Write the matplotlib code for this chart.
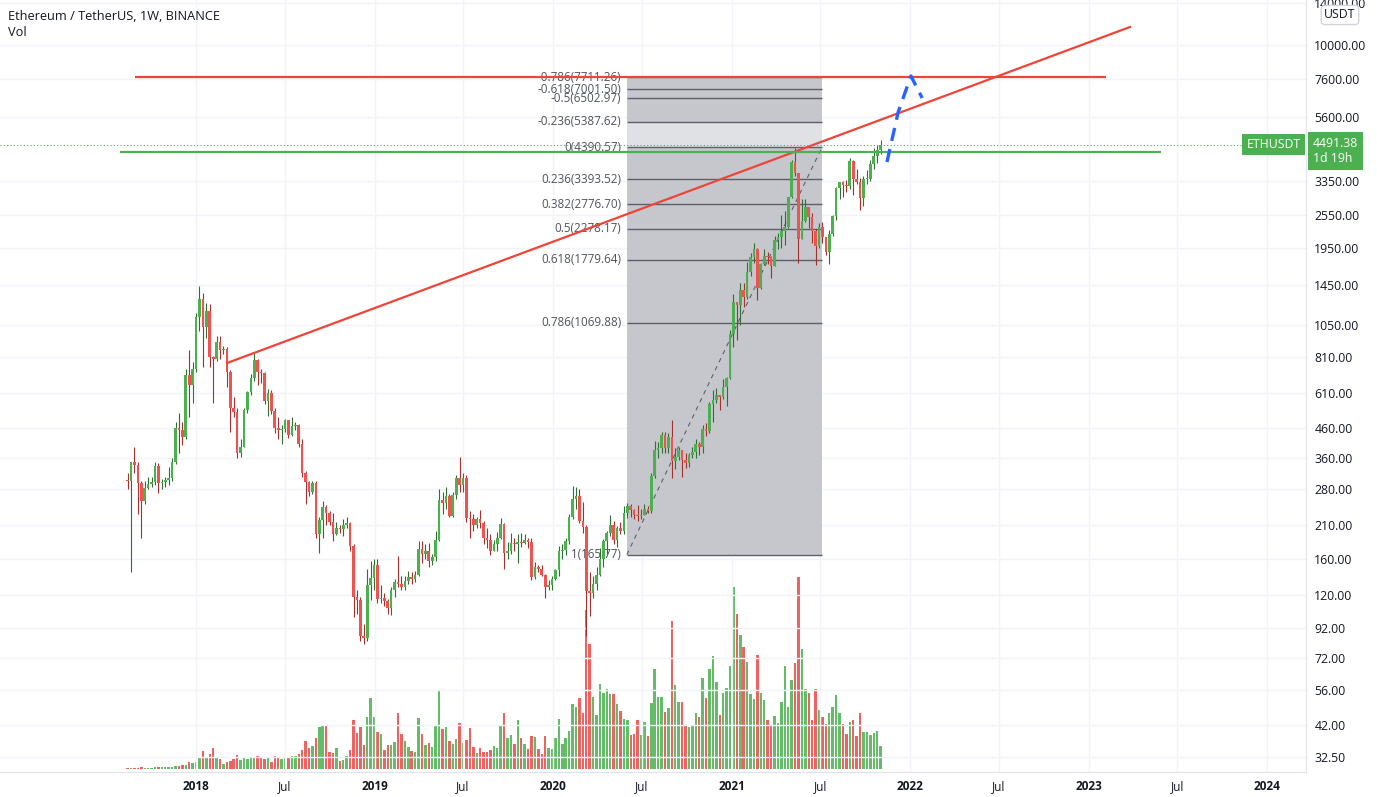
import datetime as dt
import numpy as np
import matplotlib
matplotlib.use("Agg")
import matplotlib.pyplot as plt
import matplotlib.dates as mdates
from matplotlib.ticker import NullLocator

plt.rcParams['font.family'] = ['Open Sans', 'DejaVu Sans']

# ── Weekly candles, ETH/USDT Binance ──────────────────────────────────────────
FIRST_WEEK = dt.date(2017, 8, 14)
FIRST_OPEN = 301.1

closes = [
    299, 348, 341, 296, 256, 283, 292, 298, 337, 296, 297, 302, 306, 348, 458, 450,
    428, 703, 650, 735, 1124, 1300, 1037, 1180, 814, 800, 919, 860, 870, 722, 538, 524,
    374, 395, 531, 615, 684, 793, 722, 713, 570, 610, 525, 460, 450, 455, 490, 435,
    465, 470, 405, 319, 298, 275, 294, 195, 219, 244, 231, 216, 196, 205, 203, 210,
    213, 177, 118, 115, 86, 85, 130, 137, 152, 116, 117, 114, 108, 125, 133, 131,
    128, 134, 139, 136, 141, 174, 166, 170, 157, 163, 186, 257, 252, 265, 227, 268,
    306, 290, 306, 222, 220, 210, 220, 214, 190, 186, 171, 181, 190, 212, 168, 170,
    182, 180, 183, 182, 187, 184, 139, 150, 148, 141, 128, 130, 136, 146, 170, 172,
    185, 225, 260, 265, 217, 207, 124, 122, 131, 141, 160, 185, 197, 210, 186, 206,
    200, 231, 245, 237, 228, 226, 228, 240, 236, 311, 386, 392, 433, 390, 428, 353,
    365, 384, 355, 346, 370, 377, 405, 395, 455, 447, 555, 575, 600, 590, 640, 685,
    975, 1260, 1230, 1390, 1320, 1610, 1810, 1935, 1415, 1720, 1830, 1810, 1690, 2080, 2140, 2240,
    2310, 2945, 3900, 3580, 2100, 2420, 2710, 2510, 2240, 1980, 2320, 2140, 1895, 2190, 2530, 3160,
    3310, 3240, 3225, 3940, 3410, 3330, 2930, 3390, 3415, 3850, 4085, 4290, 4491.38,
]
highs = [
    320, 350, 395, 350, 300, 300, 310, 310, 350, 346, 305, 310, 335, 360, 480, 520,
    480, 740, 860, 780, 1160, 1438, 1360, 1250, 1240, 820, 960, 960, 890, 880, 730, 590,
    540, 420, 540, 620, 710, 837, 800, 740, 720, 630, 625, 540, 500, 470, 495, 490,
    500, 480, 475, 420, 325, 300, 300, 300, 225, 255, 248, 235, 232, 215, 210, 220,
    225, 215, 180, 125, 118, 95, 148, 158, 160, 160, 130, 122, 116, 128, 136, 164,
    140, 140, 145, 144, 145, 185, 185, 180, 182, 166, 200, 280, 275, 285, 270, 275,
    315, 363, 320, 315, 235, 230, 225, 237, 218, 205, 195, 186, 199, 222, 214, 184,
    198, 190, 196, 197, 195, 190, 190, 156, 152, 152, 142, 135, 140, 148, 178, 180,
    190, 229, 288, 285, 280, 253, 210, 144, 140, 150, 175, 188, 200, 228, 217, 208,
    215, 245, 252, 250, 240, 248, 240, 250, 245, 320, 415, 410, 445, 445, 440, 488,
    390, 395, 385, 375, 376, 395, 420, 410, 470, 478, 565, 622, 635, 600, 680, 690,
    1010, 1350, 1260, 1475, 1475, 1740, 1880, 2040, 1960, 1730, 1940, 1885, 1830, 2150, 2200, 2550,
    2640, 2950, 3980, 4372, 3580, 2900, 2890, 2710, 2590, 2280, 2380, 2410, 2140, 2250, 2550, 3180,
    3330, 3340, 3375, 4030, 3970, 3680, 3440, 3490, 3660, 3970, 4380, 4460, 4660,
]
lows = [
    280, 144, 320, 230, 190, 250, 280, 285, 290, 272, 280, 285, 290, 300, 345, 375,
    400, 420, 500, 560, 720, 1000, 750, 950, 750, 560, 790, 800, 830, 640, 446, 500,
    360, 365, 395, 520, 600, 670, 650, 660, 555, 505, 515, 440, 420, 405, 445, 425,
    430, 450, 395, 310, 250, 265, 270, 190, 168, 190, 210, 210, 185, 194, 197, 192,
    205, 170, 100, 103, 83, 81, 83, 115, 125, 112, 112, 110, 103, 102, 118, 128,
    125, 125, 131, 131, 133, 140, 155, 160, 150, 152, 158, 185, 230, 240, 225, 225,
    260, 275, 275, 215, 190, 200, 205, 205, 180, 175, 165, 170, 171, 188, 148, 160,
    167, 170, 155, 176, 180, 175, 135, 136, 144, 140, 117, 125, 125, 135, 140, 160,
    165, 180, 220, 240, 213, 198, 86, 101, 117, 125, 140, 150, 167, 192, 180, 176,
    196, 195, 222, 225, 220, 217, 221, 228, 231, 232, 308, 360, 375, 375, 375, 308,
    330, 355, 310, 333, 335, 360, 362, 370, 375, 430, 440, 480, 560, 530, 580, 550,
    680, 880, 930, 1050, 1220, 1300, 1560, 1730, 1290, 1400, 1700, 1720, 1540, 1690, 1930, 1950,
    2000, 2300, 2925, 3500, 1730, 2100, 2400, 2300, 2040, 1700, 1950, 2040, 1850, 1720, 2150, 2450,
    2900, 2950, 3060, 3150, 3000, 3280, 2650, 2740, 3280, 3360, 3680, 3880, 4150,
]
# weekly volume, millions of ETH
volumes = [
    0.1, 0.1, 0.1, 0.1, 0.2, 0.1, 0.1, 0.1, 0.2, 0.2, 0.2, 0.2, 0.2, 0.2, 0.3, 0.3,
    0.4, 0.4, 0.7, 0.6, 0.7, 1.1, 1.8, 1.2, 1.5, 2.1, 1.1, 1.0, 0.5, 0.7, 0.8, 1.0,
    1.4, 0.9, 1.2, 1.0, 1.2, 1.2, 1.3, 1.1, 1.0, 1.1, 0.7, 1.3, 1.2, 1.0, 1.1, 1.2,
    1.3, 1.3, 1.5, 1.9, 2.8, 2.1, 2.3, 3.1, 4.2, 4.4, 4.3, 1.7, 1.6, 2.1, 0.8, 0.9,
    1.3, 1.9, 4.9, 3.6, 4.2, 2.4, 5.2, 7.1, 5.2, 3.7, 3.5, 1.9, 2.4, 2.4, 2.7, 5.6,
    3.5, 2.8, 2.2, 1.8, 1.7, 5.1, 3.5, 2.4, 2.6, 2.2, 4.4, 7.8, 4.0, 4.2, 2.8, 2.5,
    3.0, 4.6, 2.6, 2.9, 4.1, 2.2, 1.6, 2.1, 1.7, 1.7, 1.9, 2.3, 2.1, 4.4, 5.6, 3.1,
    3.4, 2.5, 4.9, 3.1, 2.5, 2.0, 3.3, 3.2, 2.0, 1.5, 3.3, 2.1, 2.0, 3.1, 5.0, 2.5,
    3.1, 3.8, 6.5, 6.2, 7.1, 5.6, 15.9, 12.5, 7.2, 5.4, 8.5, 7.6, 8.0, 7.5, 7.5, 6.5,
    5.8, 5.0, 4.9, 3.4, 3.5, 4.9, 3.4, 4.7, 3.3, 6.6, 10.0, 7.2, 7.2, 5.7, 6.1, 14.8,
    8.4, 6.7, 6.7, 4.4, 4.2, 4.4, 5.6, 5.2, 9.1, 7.1, 10.0, 11.3, 8.7, 5.4, 7.6, 8.1,
    10.3, 18.2, 15.5, 13.4, 12.2, 10.7, 7.5, 7.0, 11.4, 7.6, 6.9, 4.9, 4.3, 5.3, 4.6, 6.7,
    10.3, 6.2, 8.9, 10.6, 19.2, 12.0, 8.0, 7.6, 4.9, 8.0, 5.9, 5.2, 4.5, 5.6, 6.2, 7.4,
    5.6, 4.5, 3.5, 4.7, 4.9, 3.3, 5.6, 3.7, 3.7, 3.4, 3.6, 3.8, 2.3,
]

# ── Axis ticks ────────────────────────────────────────────────────────────────
price_ticks = [32.5, 42, 56, 72, 92, 120, 160, 210, 280, 360, 460, 610, 810,
               1050, 1450, 1950, 2550, 3350, 5600, 7600, 10000, 14000]
date_ticks = [dt.date(2018, 1, 1), dt.date(2018, 7, 1), dt.date(2019, 1, 1),
              dt.date(2019, 7, 1), dt.date(2020, 1, 1), dt.date(2020, 7, 1),
              dt.date(2021, 1, 1), dt.date(2021, 7, 1), dt.date(2022, 1, 1),
              dt.date(2022, 7, 1), dt.date(2023, 1, 1), dt.date(2023, 7, 1),
              dt.date(2024, 1, 1)]
date_labels = ["2018", "Jul", "2019", "Jul", "2020", "Jul", "2021", "Jul",
               "2022", "Jul", "2023", "Jul", "2024"]

# ── Drawings ──────────────────────────────────────────────────────────────────
fib_levels = [-0.786, -0.618, -0.5, -0.236, 0, 0.236, 0.382, 0.5, 0.618, 0.786, 1]
fib_top, fib_bottom = 4390.57, 165.77
fib_start, fib_end = dt.date(2020, 5, 31), dt.date(2021, 7, 4)

last_price = 4491.38
resistance = 7720
resistance_span = (dt.date(2017, 8, 30), dt.date(2023, 2, 5))
support = 4228
support_span = (dt.date(2017, 7, 30), dt.date(2023, 5, 29))
trend_dates = [dt.date(2018, 3, 5), dt.date(2023, 3, 26)]
trend_prices = [774, 11560]
proj_dates = [dt.date(2021, 11, 14), dt.date(2021, 12, 7), dt.date(2022, 1, 2), dt.date(2022, 1, 25)]
proj_prices = [3900, 5833, 7793, 6529]

UP, DOWN = "#4caf50", "#ef5350"
UP_WICK, DOWN_WICK = "#2f6f33", "#a3302d"

# ── Figure ────────────────────────────────────────────────────────────────────
W, H = 1377, 797
fig = plt.figure(figsize=(W / 100, H / 100), dpi=100)
rect = [0, 25 / H, 1306 / W, 772 / H]

xlim = (mdates.date2num(dt.date(2016, 11, 26)), mdates.date2num(dt.date(2024, 3, 20)))

weeks = [FIRST_WEEK + dt.timedelta(weeks=i) for i in range(len(closes))]
x = mdates.date2num(weeks)
c = np.array(closes, dtype=float)
o = np.concatenate([[FIRST_OPEN], c[:-1]])
hi = np.array(highs, dtype=float)
lo = np.array(lows, dtype=float)
up = c >= o

# volume pane (behind the price)
vax = fig.add_axes(rect, label="vol")
vax.bar(x, volumes, width=5.0, color=np.where(up, "#5cb860", "#ee5a57"),
        alpha=0.95, linewidth=0)
vax.set_xlim(*xlim)
vax.set_ylim(-0.3, 76.9)
vax.axis("off")

ax = fig.add_axes(rect, label="price")
ax.patch.set_alpha(0)
ax.set_yscale("log")
ax.set_xlim(*xlim)
ax.set_ylim(28.84, 14363)

# fib box
fx0, fx1 = mdates.date2num(fib_start), mdates.date2num(fib_end)
fib_prices = [fib_top - l * (fib_top - fib_bottom) for l in fib_levels]
ax.fill_between([fx0, fx1], fib_prices[3], fib_prices[0], color="#c6c7cc", lw=0, zorder=1)
ax.fill_between([fx0, fx1], fib_prices[4], fib_prices[3], color="#e0e1e5", lw=0, zorder=1)
ax.fill_between([fx0, fx1], fib_prices[-1], fib_prices[4], color="#c6c7cc", lw=0, zorder=1)
ax.hlines(fib_prices, fx0, fx1, color="#5d606b", lw=1, zorder=2)
ax.plot([fx0, fx1], [fib_bottom, fib_top], color="#5d606b", lw=0.8, ls=(0, (4, 4)), zorder=2)
for l, p in zip(fib_levels, fib_prices):
    ax.annotate(f"{l:g}({p:.2f})", xy=(fx0, p), xytext=(-4, 0), textcoords="offset points",
                ha="right", va="center", fontsize=8.4, color="#50535e", zorder=2)

# candles
ax.vlines(x, lo, hi, colors=np.where(up, UP_WICK, DOWN_WICK), lw=0.8, zorder=3)
body_lo = np.minimum(o, c)
body_hi = np.maximum(np.maximum(o, c), body_lo * 1.008)
ax.bar(x, body_hi - body_lo, bottom=body_lo, width=5.4,
       color=np.where(up, UP, DOWN), linewidth=0, zorder=3)

# drawn lines
ax.plot(mdates.date2num(trend_dates), trend_prices, color="#ef4438", lw=1.6, zorder=4)
ax.hlines(resistance, *mdates.date2num(resistance_span), color="#ef4438", lw=1.6, zorder=4)
ax.hlines(support, *mdates.date2num(support_span), color="#4caf50", lw=1.6, zorder=4)
ax.plot(mdates.date2num(proj_dates), proj_prices, color="#2962ff", lw=2.4,
        ls=(0, (4, 2.5)), zorder=4)
ax.axhline(last_price, color="#4caf50", lw=0.8, ls=(0, (1, 2)), zorder=4)

# axes styling
ax.yaxis.tick_right()
ax.set_yticks(price_ticks)
ax.set_yticklabels([f"{p:.2f}" for p in price_ticks])
ax.yaxis.set_minor_locator(NullLocator())
ax.set_xticks(mdates.date2num(date_ticks))
ax.set_xticklabels(date_labels)
for lab, txt in zip(ax.get_xticklabels(), date_labels):
    if txt != "Jul":
        lab.set_fontweight("bold")
ax.tick_params(axis="y", length=0, pad=6, labelsize=8.8, labelcolor="#131722")
ax.tick_params(axis="x", length=0, pad=6, labelsize=8.5, labelcolor="#131722")
ax.grid(True, color="#f0f3fa", lw=1)
ax.set_axisbelow(True)
for side in ["top", "left"]:
    ax.spines[side].set_visible(False)
for side in ["right", "bottom"]:
    ax.spines[side].set_color("#e0e3eb")

# price tags
ax.annotate("ETHUSDT", xy=(1.0, last_price), xycoords=("axes fraction", "data"),
            xytext=(-4, 0), textcoords="offset points", ha="right", va="center",
            fontsize=8.8, color="white", zorder=6,
            bbox=dict(boxstyle="square,pad=0.35", fc="#4caf50", ec="none"),
            annotation_clip=False)
ax.annotate("4491.38\n1d 19h", xy=(1.0, last_price), xycoords=("axes fraction", "data"),
            xytext=(5, 5.5), textcoords="offset points", ha="left", va="top",
            fontsize=8.8, color="white", linespacing=1.2, zorder=6,
            bbox=dict(boxstyle="square,pad=0.4", fc="#4caf50", ec="none"),
            annotation_clip=False)
fig.text(1340 / W, 1 - 15 / H, "USDT", ha="center", va="center", fontsize=8.8,
         color="#131722",
         bbox=dict(boxstyle="round,pad=0.25,rounding_size=0.3", fc="white", ec="#d1d4dc"))

# header
fig.text(8 / W, 1 - 16 / H, "Ethereum / TetherUS, 1W, BINANCE", ha="left", va="center",
         fontsize=9.2, color="#131722")
fig.text(8 / W, 1 - 33 / H, "Vol", ha="left", va="center", fontsize=9.2, color="#131722")

fig.savefig("out.png", dpi=100, facecolor="white")
